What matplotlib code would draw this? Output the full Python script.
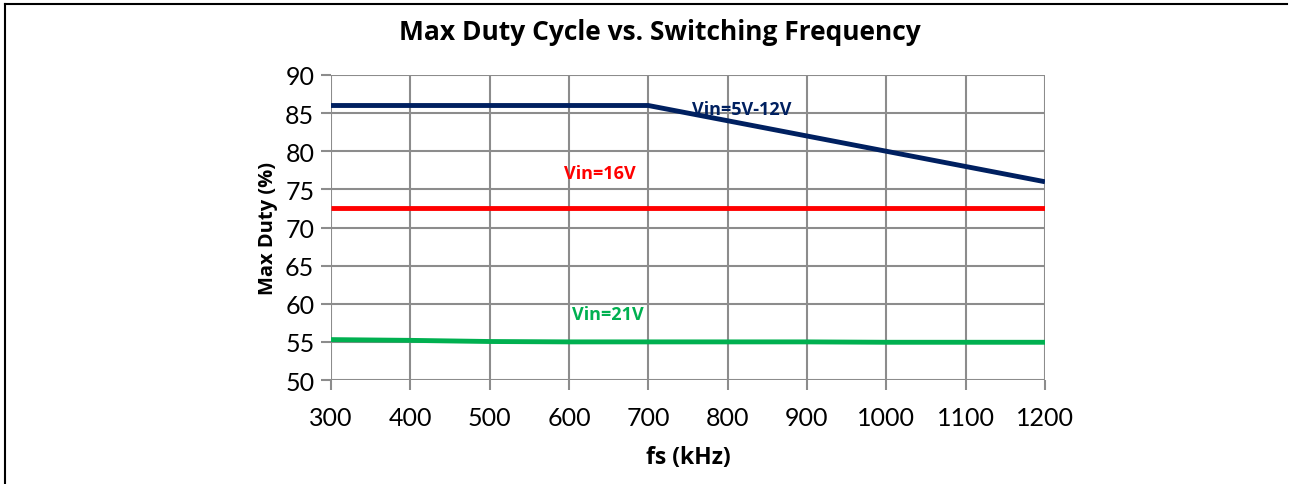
import matplotlib.pyplot as plt
from matplotlib.lines import Line2D

# datos
fs_khz = [300, 400, 500, 600, 700, 800, 900, 1000, 1100, 1200]
duty_5v_12v = [86, 86, 86, 86, 86, 84, 82, 80, 78, 76]
duty_16v = [72.5, 72.5, 72.5, 72.5, 72.5, 72.5, 72.5, 72.5, 72.5, 72.5]
duty_21v = [55.3, 55.2, 55.05, 55.0, 55.0, 55.0, 55.0, 54.95, 54.95, 54.95]

plt.rcParams['font.family'] = ['Lato', 'DejaVu Sans']
negrita = ['Open Sans', 'DejaVu Sans']

fig = plt.figure(figsize=(12.97, 4.85), dpi=100)
ax = fig.add_axes([0.2552, 0.2144, 0.5505, 0.6289])

ax.plot(fs_khz, duty_5v_12v, color='#002060', lw=3.5, solid_capstyle='butt', zorder=3)
ax.plot(fs_khz, duty_16v, color='#ff0000', lw=3.5, solid_capstyle='butt', zorder=3)
ax.plot(fs_khz, duty_21v, color='#00b050', lw=3.5, solid_capstyle='butt', zorder=3)

ax.text(818, 85.5, 'Vin=5V-12V', color='#002060', fontsize=13, fontweight='bold',
        family=negrita, ha='center', va='center')
ax.text(639, 77.1, 'Vin=16V', color='#ff0000', fontsize=13, fontweight='bold',
        family=negrita, ha='center', va='center')
ax.text(649, 58.6, 'Vin=21V', color='#00b050', fontsize=13, fontweight='bold',
        family=negrita, ha='center', va='center')

ax.set_xlim(300, 1200)
ax.set_ylim(50, 90)
ax.set_xticks(range(300, 1201, 100))
ax.set_yticks(range(50, 91, 5))
ax.grid(True, color='#8c8c8c', lw=1.5)
ax.set_axisbelow(True)
for s in ax.spines.values():
    s.set_visible(False)
ax.tick_params(axis='both', color='#8c8c8c', width=1.5, length=7, labelsize=18)
ax.tick_params(axis='y', pad=5)
ax.tick_params(axis='x', pad=12)

ax.set_xlabel('fs (kHz)', fontsize=16.5, fontweight='bold', family=negrita, labelpad=11)
ax.set_ylabel('Max Duty (%)', fontsize=14.5, fontweight='bold', family=negrita, labelpad=5)
fig.text(0.5085, 0.932, 'Max Duty Cycle vs. Switching Frequency', ha='center', va='center',
         fontsize=19, fontweight='bold', family=negrita)

# marco de la figura (solo arriba e izquierda visibles)
fig.add_artist(Line2D([5 / 1297, 1287 / 1297], [1 - 5 / 485, 1 - 5 / 485], color='black', lw=1.5))
fig.add_artist(Line2D([5 / 1297, 5 / 1297], [0, 1 - 5 / 485], color='black', lw=1.5))

fig.savefig('out.png', dpi=100)
